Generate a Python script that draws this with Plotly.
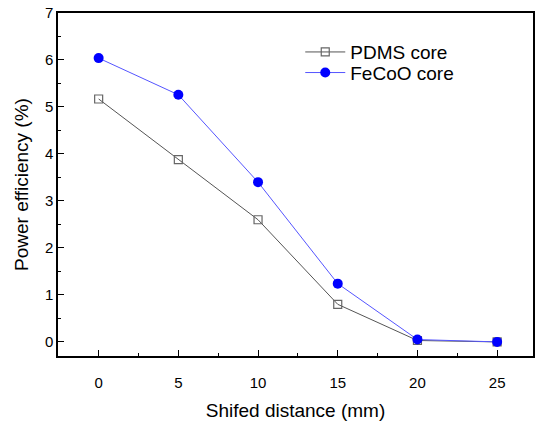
import plotly.graph_objects as go

distance = [0, 5, 10, 15, 20, 25]
pdms_core = [5.17, 3.88, 2.60, 0.80, 0.03, 0.0]
fecoo_core = [6.04, 5.26, 3.40, 1.24, 0.05, 0.0]
x_ticks = [0, 5, 10, 15, 20, 25]
y_ticks = [0, 1, 2, 3, 4, 5, 6, 7]

fig = go.Figure()
fig.add_trace(go.Scatter(
    x=distance, y=pdms_core, name="PDMS core", mode="lines+markers",
    line=dict(color="#555555", width=1),
    marker=dict(symbol="square-open", size=8, color="#666666", line=dict(width=1.2)),
    legend="legend",
))
fig.add_trace(go.Scatter(
    x=distance, y=fecoo_core, name="FeCoO core", mode="lines+markers",
    line=dict(color="#5555ff", width=1),
    marker=dict(symbol="circle", size=10, color="#0000ff"),
    legend="legend2",
))

font = "Liberation Sans, Arial, sans-serif"
axis_common = dict(
    showline=True, linecolor="black", linewidth=1.5, mirror=True,
    ticks="inside", ticklen=6, tickwidth=1, tickcolor="black",
    showgrid=False, zeroline=False, automargin=False,
    tickfont=dict(family=font, size=15, color="black"),
    minor=dict(ticks="inside", ticklen=3, tickcolor="black", tickwidth=1),
)
fig.update_xaxes(
    range=[-2.55, 27.25], tickvals=x_ticks,
    title=dict(text="Shifed distance (mm)", font=dict(family=font, size=19, color="black"), standoff=14),
    ticklabelstandoff=12,
    **axis_common,
)
fig.update_yaxes(
    range=[-0.3, 7.0], tickvals=y_ticks,
    title=dict(text="Power efficiency (%)", font=dict(family=font, size=19, color="black"), standoff=11),
    **axis_common,
)
fig.update_xaxes(minor=dict(tickvals=[2.5, 7.5, 12.5, 17.5, 22.5]))
fig.update_yaxes(minor=dict(tickvals=[-0.5, 0.5, 1.5, 2.5, 3.5, 4.5, 5.5, 6.5]))

leg_common = dict(xanchor="left", yanchor="middle", bgcolor="rgba(0,0,0,0)",
                  font=dict(family=font, size=19, color="black"), itemwidth=40)
fig.update_layout(
    width=538, height=423,
    margin=dict(l=58, r=5, t=13, b=67),
    paper_bgcolor="white", plot_bgcolor="white",
    font=dict(family=font, color="black"),
    showlegend=True,
    legend=dict(x=0.51, y=0.886, **leg_common),
    legend2=dict(x=0.51, y=0.826, **leg_common),
)
fig.write_html("out.html", config={"displayModeBar": False},
               post_script="document.body.style.margin='0';")
